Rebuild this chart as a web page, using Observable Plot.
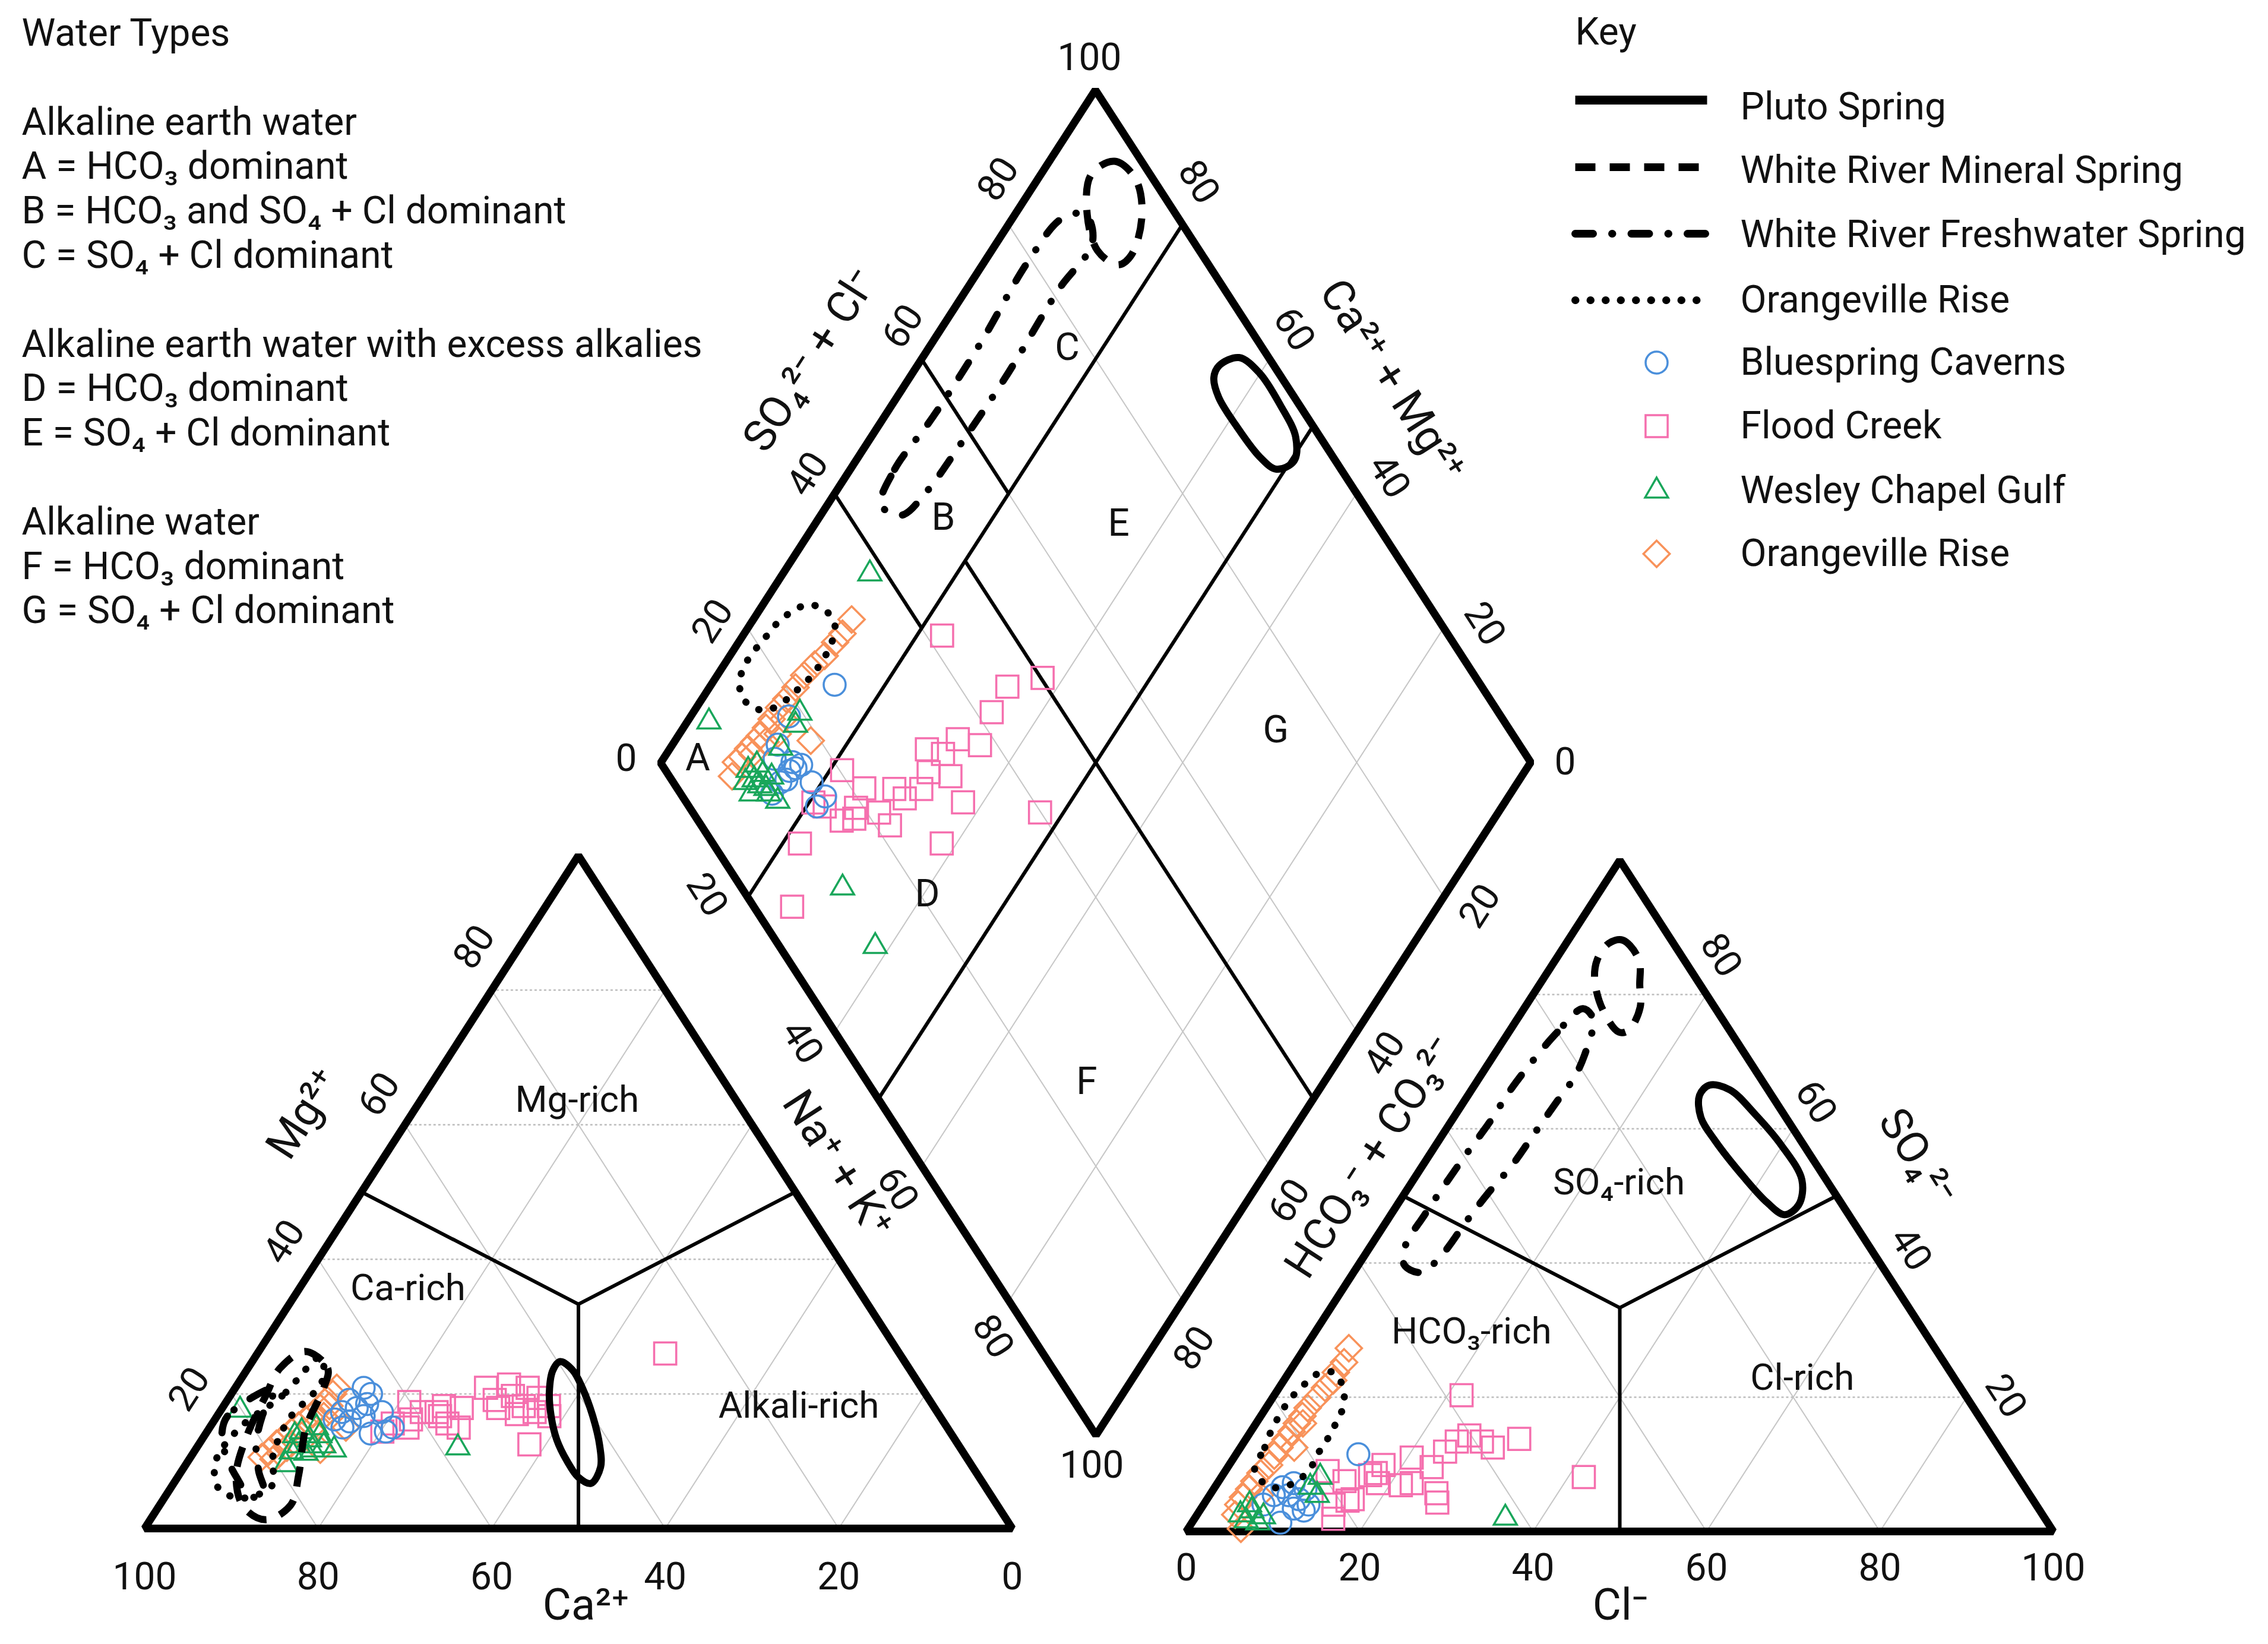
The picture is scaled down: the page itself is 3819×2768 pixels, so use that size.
<!DOCTYPE html>
<html>
<head>
<meta charset="utf-8">
<script src="https://cdn.jsdelivr.net/npm/d3@7"></script>
<script src="https://cdn.jsdelivr.net/npm/@observablehq/plot@0.6"></script>
<style>
html,body{margin:0;padding:0;background:#fff;}
#chart svg{display:block;}
</style>
</head>
<body>
<div id="chart"></div>
<script>
// ---------------- DATA ----------------
// Diamond field: [SO4+Cl %, Na+K %]
const diamondBluespring = [[25.8,14.2],[18.2,11.3],[15.2,15.1],[14.2,15.4],[15.1,15.9],[13.2,15.7],[12.3,15.2],[16.0,16.3],[13.4,12.8],[14.8,12.1],[15.9,18.8],[16.4,21.4],[14.7,21.2],[10.5,15.1]];
const diamondFloodCreek = [[41.8,22.9],[50.2,37.6],[45.5,34.2],[41.8,34.3],[35.9,32.4],[38.0,35.4],[31.6,29.6],[33.1,31.8],[30.1,31.5],[32.3,34.3],[20.3,21.4],[21.5,25.3],[24.9,28.8],[28.0,31.9],[25.4,30.7],[31.8,37.7],[14.6,20.5],[19.1,25.8],[21.4,28.8],[16.5,25.1],[18.1,26.4],[21.7,31.0],[39.9,47.3],[10.0,22.0],[26.3,38.3],[4.4,25.8],[15.6,22.1]];
const diamondWesleyChapel = [[38.1,10.0],[8.6,2.5],[19.7,12.3],[11.6,30.2],[11.0,38.3],[10.6,16.3],[9.5,10.6],[9.5,12.0],[9.7,13.1],[10.2,14.0],[8.1,12.7],[11.7,13.8],[8.3,11.2],[10.9,11.2],[10.9,12.6],[10.1,14.7],[18.3,12.7],[14.9,12.7]];
const diamondOrangeville = [[32.6,11.3],[30.5,11.3],[29.0,11.1],[26.8,10.9],[25.0,10.4],[23.0,10.0],[21.1,9.9],[19.2,9.7],[17.7,9.5],[16.0,9.5],[14.7,9.5],[13.4,9.4],[12.3,9.2],[11.1,9.0],[9.8,8.9],[8.7,8.6],[7.2,9.2],[18.9,15.6],[11.2,9.9],[13.6,10.5],[15.6,11.3],[17.4,10.9]];

// Cation triangle: [Mg %, Na+K %]
const cationBluespring = [[20.9,14.8],[20.0,16.1],[19.1,14.0],[17.9,15.5],[17.3,14.1],[18.5,16.4],[17.3,18.7],[16.2,13.8],[15.0,15.3],[16.7,16.9],[14.4,20.6],[14.1,19.0],[15.0,21.1],[15.9,15.7]];
const cationFloodCreek = [[18.8,21.1],[16.2,22.6],[15.0,22.8],[17.3,25.0],[18.2,25.4],[16.7,25.7],[15.0,28.7],[17.9,27.6],[20.9,28.9],[19.1,30.8],[21.4,31.3],[19.7,32.6],[20.9,33.7],[18.2,34.6],[19.4,35.7],[18.2,37.5],[16.7,38.3],[17.9,31.8],[17.0,34.4],[12.5,38.1],[26.0,47.0],[14.4,20.2],[15.6,20.8],[17.3,23.3],[15.6,27.1],[17.3,36.3]];
const cationWesleyChapel = [[17.6,2.2],[9.5,11.5],[11.7,16.0],[12.0,30.1],[14.4,10.9],[13.2,12.4],[15.0,12.3],[12.3,11.6],[11.7,13.5],[13.8,13.3],[11.2,13.0],[13.8,10.4],[12.3,14.5],[11.4,11.2]];
const cationOrangeville = [[10.6,8.2],[11.4,8.6],[12.6,8.9],[13.5,9.3],[14.4,9.7],[15.3,10.1],[16.2,10.5],[17.0,10.9],[17.9,11.3],[19.1,11.5],[20.0,11.7],[20.9,11.7],[10.3,9.7],[12.0,10.4],[13.8,11.2],[15.6,12.0],[16.7,12.3],[18.2,12.2],[11.2,10.0],[15.0,15.7],[11.7,14.4]];

// Anion triangle: [SO4 %, Cl %]
const anionBluespring = [[11.5,14.1],[6.6,7.8],[7.2,8.8],[6.3,10.6],[5.4,7.4],[5.4,9.1],[4.8,10.6],[4.0,12.1],[3.1,12.0],[1.3,10.2],[4.0,6.9],[3.4,10.7]];
const anionFloodCreek = [[20.3,21.6],[14.3,25.5],[13.4,24.5],[12.5,29.1],[13.8,31.5],[11.9,23.9],[9.6,23.5],[11.0,20.5],[7.2,22.4],[5.7,26.0],[4.3,26.8],[9.9,17.8],[7.2,18.5],[8.4,17.0],[7.5,14.5],[4.6,16.3],[4.0,15.0],[1.9,16.0],[9.0,11.8],[8.1,41.8],[4.8,16.8],[8.7,17.5],[6.9,21.3],[13.4,27.4]];
const anionWesleyChapel = [[2.0,35.8],[8.1,11.4],[5.4,12.4],[3.1,6.0],[1.6,6.1],[1.3,7.6],[2.5,5.0],[2.2,7.8],[4.0,5.3],[6.6,11.0]];
const anionOrangeville = [[27.3,5.1],[25.2,5.6],[23.7,5.4],[22.5,5.7],[21.4,5.3],[19.9,5.1],[18.4,4.8],[17.2,4.8],[16.1,4.7],[14.9,4.7],[13.7,4.6],[12.5,4.5],[11.3,4.5],[9.9,4.6],[8.7,4.2],[7.5,4.1],[6.3,4.1],[5.1,4.0],[4.0,4.0],[2.5,4.4],[0.4,6.1],[16.1,5.4],[12.5,6.2],[5.4,5.8]];

// Spring envelopes (outline vertices, same coordinate conventions as above)
const plutoDiamond = [[93.7,34.7],[96.6,36.4],[97.8,39.9],[97.8,44.7],[97.2,48.8],[95.2,50.4],[92.6,49.0],[91.6,46.2],[91.2,41.1],[91.3,37.0],[92.2,35.0]];
const mineralDiamond = [[93.2,5.8],[96.9,7.5],[98.0,11.2],[96.1,14.6],[91.9,16.4],[89.6,15.6],[88.3,12.2],[89.8,8.3]];
const freshDiamond = [[44.5,6.2],[48.7,5.1],[56.9,5.6],[67.9,5.6],[79.4,5.0],[86.6,5.7],[89.6,8.1],[88.3,11.0],[80.9,10.6],[68.8,11.0],[58.0,10.8],[50.5,10.4],[46.1,9.3]];
const orangeDiamond = [[14.4,5.7],[14.6,3.6],[16.3,2.5],[18.7,2.4],[21.2,2.7],[23.7,3.0],[26.2,3.8],[28.7,5.2],[30.3,7.7],[30.2,9.9],[28.3,10.8],[26.1,11.0],[23.8,10.9],[20.8,10.2],[18.7,9.6],[16.0,8.2]];

const plutoCation = [[24.8,35.5],[23.5,37.6],[20.9,40.0],[16.7,43.3],[12.3,46.3],[9.1,48.0],[6.7,48.1],[7.6,46.2],[10.0,43.7],[13.2,40.9],[16.7,38.5],[20.3,36.5],[23.5,35.3]];
const mineralCation = [[26.3,5.4],[23.8,9.2],[20.9,10.2],[15.0,11.1],[7.9,13.8],[3.5,15.1],[1.3,13.3],[3.2,9.8],[7.9,6.6],[13.8,4.9],[19.7,4.1],[23.8,3.7]];
const freshCation = [[20.9,4.6],[16.7,1.2],[13.8,2.0],[10.9,3.9],[7.6,6.8],[4.7,9.9],[5.3,11.1],[8.5,8.9],[12.3,6.7],[16.7,5.2]];
const orangeCation = [[25.5,7.5],[19.7,6.0],[15.0,3.5],[10.0,3.2],[6.0,5.5],[4.5,9.0],[6.5,11.5],[10.5,9.5],[16.0,8.5],[22.0,9.5]];

const plutoAnion = [[65.0,26.7],[66.5,27.1],[65.8,29.8],[62.1,34.6],[57.6,39.8],[52.4,44.8],[48.7,46.3],[47.2,45.4],[49.0,42.5],[52.8,37.9],[58.3,31.8],[61.7,28.5]];
const mineralAnion = [[87.6,4.9],[88.1,6.3],[85.2,9.6],[81.4,11.6],[78.1,13.3],[74.7,13.7],[74.4,12.7],[77.7,9.2],[82.2,6.0],[85.2,4.8]];
const freshAnion = [[77.9,6.8],[74.4,5.6],[70.1,4.9],[65.8,4.5],[61.0,4.5],[56.5,4.2],[51.8,4.0],[47.2,3.9],[42.5,4.0],[39.7,5.3],[38.6,7.8],[41.4,8.9],[46.1,9.2],[50.3,9.6],[54.6,10.3],[59.1,10.5],[63.7,10.7],[68.2,10.9],[73.2,9.9],[76.2,8.9]];
const orangeAnion = [[9.0,3.4],[12.5,2.8],[15.0,2.3],[17.4,2.1],[19.6,2.1],[21.7,2.6],[23.4,3.3],[23.7,5.1],[21.4,7.4],[18.6,8.8],[16.1,9.2],[13.8,9.4],[11.5,9.4],[9.3,9.6],[7.2,8.8],[6.6,6.5]];

// Axis / tick values and label texts
const gridValues = [20, 40, 60, 80];
const baseTicks = [0, 20, 40, 60, 80, 100];
const seriesNames = ["Bluespring Caverns", "Flood Creek", "Wesley Chapel Gulf", "Orangeville Rise"];
const seriesColors = ["#4a8fdb", "#f56fae", "#19a65a", "#f8925a"];
const seriesSymbols = ["circle", "square", "triangle2", "diamond2"];
const seriesRadius = [18.5, 21, 18.5, 20];
const springNames = ["Pluto Spring", "White River Mineral Spring", "White River Freshwater Spring", "Orangeville Rise"];
const waterTypeLines = ["Water Types", "", "Alkaline earth water", "A = HCO₃ dominant", "B = HCO₃ and SO₄ + Cl dominant", "C = SO₄ + Cl dominant", "", "Alkaline earth water with excess alkalies", "D = HCO₃ dominant", "E = SO₄ + Cl dominant", "", "Alkaline water", "F = HCO₃ dominant", "G = SO₄ + Cl dominant"];
const cationRegionLabels = [["Mg-rich", 63.7, 18.0], ["Ca-rich", 35.7, 12.5], ["Alkali-rich", 18.2, 66.3]];
const anionRegionLabels = [["SO₄-rich", 52.0, 23.9], ["HCO₃-rich", 29.8, 18.0], ["Cl-rich", 22.9, 59.6]];
const diamondRegionLabels = [["A", 4.6, 3.9], ["B", 50.7, 14.3], ["C", 77.6, 15.9], ["D", 20.9, 40.4], ["E", 70.4, 34.9], ["F", 25.2, 72.7], ["G", 73.1, 68.3]];

// ---------------- LAYOUT ----------------
const W = 3819, H = 2768;
const LEFT = {o: [243, 2573], b: [1704, 2573], a: [973.5, 1440]};   // o=100% Ca, b=100% Na+K, a=100% Mg
const RIGHT = {o: [1997, 2578], b: [3457, 2578], a: [2727, 1448]};  // o=100% HCO3, b=100% Cl, a=100% SO4
const DIA = {l: [1112, 1284], t: [1844, 151], r: [2577, 1283], b: [1845, 2416]};
const ROT = 57.2;
const FONT = "Roboto, 'Noto Sans', sans-serif";

function triXY(T, pa, pb) {
  return [T.o[0] + (T.b[0] - T.o[0]) * pb / 100 + (T.a[0] - T.o[0]) * pa / 100,
          T.o[1] + (T.b[1] - T.o[1]) * pb / 100 + (T.a[1] - T.o[1]) * pa / 100];
}
function diaXY(s, n) {
  return [DIA.l[0] + (DIA.t[0] - DIA.l[0]) * s / 100 + (DIA.b[0] - DIA.l[0]) * n / 100,
          DIA.l[1] + (DIA.t[1] - DIA.l[1]) * s / 100 + (DIA.b[1] - DIA.l[1]) * n / 100];
}
function toXY(panel, p, q) {
  return panel === "d" ? diaXY(p, q) : triXY(panel === "l" ? LEFT : RIGHT, p, q);
}

// points
const pts = [];
const seriesData = [
  [cationBluespring, cationFloodCreek, cationWesleyChapel, cationOrangeville],
  [anionBluespring, anionFloodCreek, anionWesleyChapel, anionOrangeville],
  [diamondBluespring, diamondFloodCreek, diamondWesleyChapel, diamondOrangeville]
];
const panels = ["l", "r", "d"];
panels.forEach((pan, pi) => {
  seriesData[pi].forEach((arr, si) => {
    arr.forEach(([p, q]) => { const [x, y] = toXY(pan, p, q); pts.push({x, y, s: si}); });
  });
});

// envelopes
const env = [];
const envSets = [
  [plutoCation, "l", 0], [mineralCation, "l", 1], [freshCation, "l", 2], [orangeCation, "l", 3],
  [plutoAnion, "r", 0], [mineralAnion, "r", 1], [freshAnion, "r", 2], [orangeAnion, "r", 3],
  [plutoDiamond, "d", 0], [mineralDiamond, "d", 1], [freshDiamond, "d", 2], [orangeDiamond, "d", 3]
];
envSets.forEach(([arr, pan, st], id) => {
  arr.forEach(([p, q]) => { const [x, y] = toXY(pan, p, q); env.push({x, y, st, id}); });
});
const envStyle = [
  {strokeDasharray: null, strokeLinecap: "butt"},
  {strokeDasharray: "34,24", strokeLinecap: "butt"},
  {strokeDasharray: "30,32,0.5,32", strokeLinecap: "round"},
  {strokeDasharray: "0.5,25", strokeLinecap: "round"}
];

// grid lines
const grid = [];
function seg(arr, a, b, extra) { arr.push({x1: a[0], y1: a[1], x2: b[0], y2: b[1], ...extra}); }
for (const v of gridValues) {
  for (const T of [LEFT, RIGHT]) {
    seg(grid, triXY(T, v, 0), triXY(T, v, 100 - v), {dot: true});
    seg(grid, triXY(T, 0, v), triXY(T, 100 - v, v), {dot: false});
    seg(grid, triXY(T, 0, 100 - v), triXY(T, 100 - v, 0), {dot: false});
  }
  seg(grid, diaXY(v, 0), diaXY(v, 100), {dot: false});
  seg(grid, diaXY(0, v), diaXY(100, v), {dot: false});
}

// classification boundaries
const triBounds = [[[100/3, 100/3], [50, 0]], [[100/3, 100/3], [50, 50]], [[100/3, 100/3], [0, 50]]];
const diaBounds = [[[0, 20], [100, 20]], [[40, 0], [40, 20]], [[60, 0], [60, 20]], [[50, 20], [50, 100]], [[0, 50], [100, 50]]];
const bounds = [];
for (const T of [LEFT, RIGHT]) for (const [a, b] of triBounds) seg(bounds, triXY(T, ...a), triXY(T, ...b), {});
for (const [a, b] of diaBounds) seg(bounds, diaXY(...a), diaXY(...b), {});

// frames
const frames = [];
[[LEFT, [[0, 0], [0, 100], [100, 0]]], [RIGHT, [[0, 0], [0, 100], [100, 0]]]].forEach(([T, vs], k) =>
  vs.forEach(([a, b]) => { const [x, y] = triXY(T, a, b); frames.push({x, y, k}); }));
[[0, 0], [100, 0], [100, 100], [0, 100]].forEach(([s, n]) => { const [x, y] = diaXY(s, n); frames.push({x, y, k: 2}); });

// tick labels
const spread = 1.095;
function edgeLabel(P0, P1, v, off) {
  const t = 0.5 + (v / 100 - 0.5) * spread;
  return [P0[0] + (P1[0] - P0[0]) * t + off[0], P0[1] + (P1[1] - P0[1]) * t + off[1]];
}
const tickLabels = [];
const edges = [
  [DIA.l, DIA.t, [-38, -44], -ROT],
  [DIA.r, DIA.t, [48, -39], ROT],
  [DIA.r, DIA.b, [40, 48], -ROT],
  [DIA.l, DIA.b, [-48, 28], ROT],
  [LEFT.o, LEFT.a, [-50, -40], -ROT],
  [RIGHT.b, RIGHT.a, [45, -34], ROT]
];
for (const [P0, P1, off, rot] of edges) for (const v of gridValues) {
  const [x, y] = edgeLabel(P0, P1, v, off); tickLabels.push({x, y, text: String(v), rot});
}
for (const v of baseTicks) {
  tickLabels.push({x: LEFT.o[0] + (LEFT.b[0] - LEFT.o[0]) * (100 - v) / 100, y: LEFT.o[1] + 82, text: String(v), rot: 0});
  tickLabels.push({x: RIGHT.o[0] + (RIGHT.b[0] - RIGHT.o[0]) * v / 100, y: RIGHT.o[1] + 62, text: String(v), rot: 0});
}
tickLabels.push({x: DIA.l[0] - 58, y: DIA.l[1] - 7, text: "0", rot: 0});
tickLabels.push({x: DIA.t[0] - 10, y: DIA.t[1] - 54, text: "100", rot: 0});
tickLabels.push({x: DIA.r[0] + 58, y: DIA.r[1], text: "0", rot: 0});
tickLabels.push({x: DIA.b[0] - 7, y: DIA.b[1] + 51, text: "100", rot: 0});

// axis titles
const axisTitles = [
  {x: 986, y: 2703, text: "Ca²⁺", rot: 0},
  {x: 2728, y: 2703, text: "Cl⁻", rot: 0},
  {x: 511, y: 1875, text: "Mg²⁺", rot: -ROT},
  {x: 1410, y: 1960, text: "Na⁺ + K⁺", rot: ROT},
  {x: 1364, y: 606, text: "SO₄²⁻ + Cl⁻", rot: -ROT},
  {x: 2344, y: 640, text: "Ca²⁺ + Mg²⁺", rot: ROT},
  {x: 2308, y: 1948, text: "HCO₃⁻ + CO₃²⁻", rot: -ROT},
  {x: 3228, y: 1948, text: "SO₄²⁻", rot: ROT}
];

// region labels
const regionLabels = [];
cationRegionLabels.forEach(([t, a, b]) => { const [x, y] = triXY(LEFT, a, b); regionLabels.push({x, y, text: t}); });
anionRegionLabels.forEach(([t, a, b]) => { const [x, y] = triXY(RIGHT, a, b); regionLabels.push({x, y, text: t}); });
const letterLabels = diamondRegionLabels.map(([t, s, n]) => { const [x, y] = diaXY(s, n); return {x, y, text: t}; });

// legends
const wtX = 36, wtY0 = 56, wtStep = 74.8;
const waterTypes = waterTypeLines.map((t, i) => ({x: wtX, y: wtY0 + i * wtStep, text: t})).filter(d => d.text);
const keyX0 = 2652, keyX1 = 2874, keyTextX = 2930, keyMarkX = 2789;
const keyLineRows = [168, 281, 393, 505];
const keyTextRows = [180, 287, 395, 505, 610, 717, 826, 932];
const keyLines = [];
springNames.forEach((n, i) => { keyLines.push({x: keyX0, y: keyLineRows[i], st: i}); keyLines.push({x: keyX1, y: keyLineRows[i], st: i}); });
const keyTexts = [...springNames, ...seriesNames].map((t, i) => ({x: keyTextX, y: keyTextRows[i], text: t}));

// ---------------- MARKS ----------------
const marks = [];
marks.push(Plot.link(grid.filter(d => !d.dot), {x1: "x1", y1: "y1", x2: "x2", y2: "y2", stroke: "#c6c6c6", strokeWidth: 2}));
marks.push(Plot.link(grid.filter(d => d.dot), {x1: "x1", y1: "y1", x2: "x2", y2: "y2", stroke: "#bdbdbd", strokeWidth: 2.5, strokeDasharray: "4,4"}));
marks.push(Plot.link(bounds, {x1: "x1", y1: "y1", x2: "x2", y2: "y2", stroke: "black", strokeWidth: 6}));
marks.push(Plot.line(frames, {x: "x", y: "y", z: "k", curve: "linear-closed", stroke: "black", strokeWidth: 13, strokeLinejoin: "miter"}));

const drawOrder = [1, 3, 0, 2];
for (const si of drawOrder) {
  marks.push(Plot.dot(pts.filter(d => d.s === si), {x: "x", y: "y", symbol: seriesSymbols[si], r: seriesRadius[si], stroke: seriesColors[si], strokeWidth: 3.5, fill: "none"}));
}
envStyle.forEach((sty, st) => {
  marks.push(Plot.line(env.filter(d => d.st === st), {x: "x", y: "y", z: "id", curve: "catmull-rom-closed", stroke: "black", strokeWidth: 12, strokeLinejoin: "round", ...sty}));
  marks.push(Plot.line(keyLines.filter(d => d.st === st), {x: "x", y: "y", stroke: "black", strokeWidth: st === 0 ? 15 : 13, ...sty}));
});
seriesNames.forEach((n, si) => {
  marks.push(Plot.dot([{x: keyMarkX, y: keyTextRows[4 + si]}], {x: "x", y: "y", symbol: seriesSymbols[si], r: seriesRadius[si], stroke: seriesColors[si], strokeWidth: 3.5, fill: "none"}));
});

const txt = {x: "x", y: "y", text: "text", fill: "#111", lineAnchor: "middle", fontFamily: FONT};
marks.push(Plot.text(tickLabels, {...txt, rotate: "rot", fontSize: 64, textAnchor: "middle"}));
marks.push(Plot.text(axisTitles, {...txt, rotate: "rot", fontSize: 74, textAnchor: "middle"}));
marks.push(Plot.text(regionLabels, {...txt, fontSize: 62, textAnchor: "middle"}));
marks.push(Plot.text(letterLabels, {...txt, fontSize: 64, textAnchor: "middle"}));
marks.push(Plot.text(waterTypes, {...txt, fontSize: 64, textAnchor: "start"}));
marks.push(Plot.text([{x: keyX0, y: 54, text: "Key"}], {...txt, fontSize: 64, textAnchor: "start"}));
marks.push(Plot.text(keyTexts, {...txt, fontSize: 64, textAnchor: "start"}));

const chart = Plot.plot({
  width: W, height: H,
  marginTop: 0, marginRight: 0, marginBottom: 0, marginLeft: 0,
  x: {domain: [0, W], range: [0, W], axis: null},
  y: {domain: [0, H], range: [0, H], axis: null},
  style: {fontFamily: FONT, background: "white"},
  marks
});
document.getElementById("chart").appendChild(chart);
</script>
</body>
</html>
